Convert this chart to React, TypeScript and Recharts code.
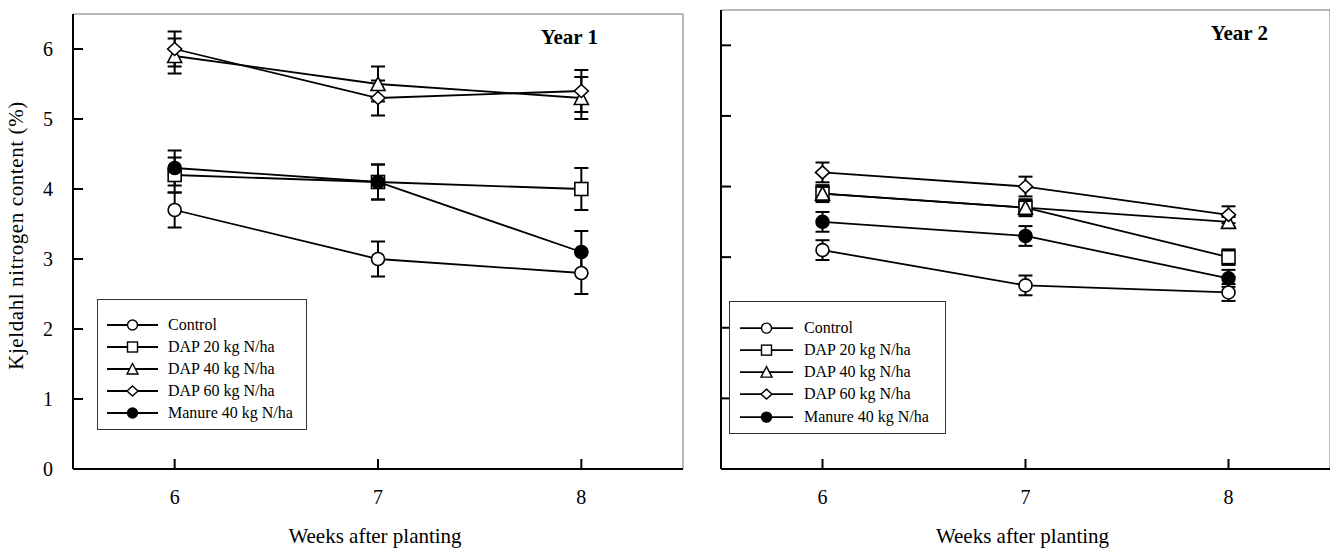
import React from 'react';
import { LineChart, Line, XAxis, YAxis, ErrorBar, ReferenceArea, Legend } from 'recharts';

// ---------- data ----------
const WEEKS = [6, 7, 8];
const SERIES_NAMES = ['Control', 'DAP 20 kg N/ha', 'DAP 40 kg N/ha', 'DAP 60 kg N/ha', 'Manure 40 kg N/ha'];
const SERIES_KEYS = ['control', 'dap20', 'dap40', 'dap60', 'manure'];
const SERIES_SHAPES = ['circle', 'square', 'triangle', 'diamond', 'filled'];

// Year 1 (mean, ± error)
const Y1_CONTROL = [3.7, 3.0, 2.8];
const Y1_CONTROL_ERR = [0.25, 0.25, 0.3];
const Y1_DAP20 = [4.2, 4.1, 4.0];
const Y1_DAP20_ERR = [0.25, 0.25, 0.3];
const Y1_DAP40 = [5.9, 5.5, 5.3];
const Y1_DAP40_ERR = [0.25, 0.25, 0.3];
const Y1_DAP60 = [6.0, 5.3, 5.4];
const Y1_DAP60_ERR = [0.25, 0.25, 0.3];
const Y1_MANURE = [4.3, 4.1, 3.1];
const Y1_MANURE_ERR = [0.25, 0.25, 0.3];

// Year 2 (mean, ± error)
const Y2_CONTROL = [3.1, 2.6, 2.5];
const Y2_CONTROL_ERR = [0.14, 0.14, 0.12];
const Y2_DAP20 = [3.9, 3.7, 3.0];
const Y2_DAP20_ERR = [0.12, 0.12, 0.11];
const Y2_DAP40 = [3.9, 3.7, 3.5];
const Y2_DAP40_ERR = [0.1, 0.1, 0.07];
const Y2_DAP60 = [4.2, 4.0, 3.6];
const Y2_DAP60_ERR = [0.14, 0.14, 0.12];
const Y2_MANURE = [3.5, 3.3, 2.7];
const Y2_MANURE_ERR = [0.14, 0.14, 0.12];

const Y_TICKS = [0, 1, 2, 3, 4, 5, 6];
const X_TICKS = [6, 7, 8];
const X_DOMAIN = [5.5, 8.5];
const Y_DOMAIN = [0, 6.5];

const X_TITLE = 'Weeks after planting';
const Y_TITLE = 'Kjeldahl nitrogen content (%)';
const PANEL_TITLES = ['Year 1', 'Year 2'];

// ---------- helpers ----------
const FONT = "'Liberation Serif', 'Times New Roman', Times, serif";

function buildRows(values: number[][], errs: number[][]) {
  return WEEKS.map((w, i) => {
    const row: any = { week: w };
    SERIES_KEYS.forEach((k, s) => {
      row[k] = values[s][i];
      row[k + 'Err'] = errs[s][i];
    });
    return row;
  });
}

const DATA_Y1 = buildRows(
  [Y1_CONTROL, Y1_DAP20, Y1_DAP40, Y1_DAP60, Y1_MANURE],
  [Y1_CONTROL_ERR, Y1_DAP20_ERR, Y1_DAP40_ERR, Y1_DAP60_ERR, Y1_MANURE_ERR]
);
const DATA_Y2 = buildRows(
  [Y2_CONTROL, Y2_DAP20, Y2_DAP40, Y2_DAP60, Y2_MANURE],
  [Y2_CONTROL_ERR, Y2_DAP20_ERR, Y2_DAP40_ERR, Y2_DAP60_ERR, Y2_MANURE_ERR]
);

function Marker({ shape, cx, cy, s, sw = 1.6 }: { shape: string; cx: number; cy: number; s: number; sw?: number }) {
  const common = { stroke: '#000', strokeWidth: sw, fill: '#fff' };
  switch (shape) {
    case 'circle':
      return <circle cx={cx} cy={cy} r={s} {...common} />;
    case 'square':
      return <rect x={cx - s} y={cy - s} width={2 * s} height={2 * s} {...common} />;
    case 'triangle':
      return (
        <polygon
          points={`${cx},${cy - s - 0.5} ${cx - s - 0.5},${cy + s} ${cx + s + 0.5},${cy + s}`}
          {...common}
        />
      );
    case 'diamond':
      return (
        <polygon
          points={`${cx},${cy - s} ${cx + s + 0.5},${cy} ${cx},${cy + s} ${cx - s - 0.5},${cy}`}
          {...common}
        />
      );
    default:
      return <circle cx={cx} cy={cy} r={s} stroke="#000" strokeWidth={sw} fill="#000" />;
  }
}

const TICK_LEN = 10;
const Y_TICK_GAP = 20;
const X_TICK_GAP = 21;

const makeYTick = (showLabel: boolean) => (props: any) => {
  const { x, y, payload } = props;
  const axisX = x + Y_TICK_GAP;
  return (
    <g>
      <line x1={axisX} x2={axisX + TICK_LEN} y1={y} y2={y} stroke="#000" strokeWidth={2} />
      {showLabel && (
        <text x={x} y={y + 7} textAnchor="end" fontFamily={FONT} fontSize={20} fill="#000">
          {payload.value}
        </text>
      )}
    </g>
  );
};

const XTick = (props: any) => {
  const { x, y, payload } = props;
  const axisY = y - X_TICK_GAP;
  return (
    <g>
      <line x1={x} x2={x} y1={axisY} y2={axisY - TICK_LEN} stroke="#000" strokeWidth={2} />
      <text x={x} y={y + 13.5} textAnchor="middle" fontFamily={FONT} fontSize={20} fill="#000">
        {payload.value}
      </text>
    </g>
  );
};

const makeXLabel = (panelTitle: string, yearRightInset: number) => (props: any) => {
  const vb = props.viewBox || {};
  const cx = vb.x + vb.width / 2 - 3;
  return (
    <g>
      <text x={cx} y={vb.y + 74} textAnchor="middle" fontFamily={FONT} fontSize={21} fill="#000">
        {X_TITLE}
      </text>
    </g>
  );
};

const YLabel = (props: any) => {
  const vb = props.viewBox || {};
  const cy = vb.y + vb.height / 2 - 6;
  const bx = 23;
  return (
    <text
      x={bx}
      y={cy}
      transform={`rotate(-90, ${bx}, ${cy})`}
      textAnchor="middle"
      fontFamily={FONT}
      fontSize={21}
      letterSpacing={0.6}
      fill="#000"
    >
      {Y_TITLE}
    </text>
  );
};

function LegendBox({ width, height, padTop, rowH, lineX1, lineX2, textX }: any) {
  return (
    <div
      style={{
        width,
        height,
        border: '1px solid #333',
        boxSizing: 'border-box',
        background: '#fff',
        paddingTop: padTop,
        fontFamily: FONT,
        fontSize: 16,
        color: '#000',
      }}
    >
      {SERIES_NAMES.map((name, i) => (
        <div key={name} style={{ display: 'flex', alignItems: 'center', height: rowH }}>
          <svg width={textX} height={rowH} style={{ display: 'block', flex: 'none' }}>
            <line x1={lineX1} x2={lineX2} y1={rowH / 2} y2={rowH / 2} stroke="#000" strokeWidth={1.8} />
            <Marker shape={SERIES_SHAPES[i]} cx={(lineX1 + lineX2) / 2} cy={rowH / 2} s={5} sw={1.4} />
          </svg>
          <span style={{ whiteSpace: 'nowrap', lineHeight: `${rowH}px` }}>{name}</span>
        </div>
      ))}
    </div>
  );
}

function Panel({
  data,
  width,
  height,
  margin,
  yAxisWidth,
  showYLabels,
  title,
  titleRight,
  titleBaseline,
  legend,
}: any) {
  return (
    <LineChart width={width} height={height} data={data} margin={margin}>
      <ReferenceArea
        x1={X_DOMAIN[0]}
        x2={X_DOMAIN[1]}
        y1={Y_DOMAIN[0]}
        y2={Y_DOMAIN[1]}
        fill="none"
        stroke="#777"
        strokeWidth={1}
        ifOverflow="visible"
      />
      <XAxis
        dataKey="week"
        type="number"
        domain={X_DOMAIN}
        ticks={X_TICKS}
        allowDataOverflow
        height={80}
        axisLine={{ stroke: '#000', strokeWidth: 2 }}
        tickLine={false}
        tickSize={0}
        tickMargin={X_TICK_GAP}
        tick={XTick}
        label={makeXLabel(title, titleRight)}
      />
      <YAxis
        type="number"
        domain={Y_DOMAIN}
        ticks={Y_TICKS}
        allowDataOverflow
        width={yAxisWidth}
        axisLine={{ stroke: '#000', strokeWidth: 2 }}
        tickLine={false}
        tickSize={0}
        tickMargin={Y_TICK_GAP}
        tick={makeYTick(showYLabels)}
        label={showYLabels ? YLabel : undefined}
      />
      {SERIES_KEYS.map((k, i) => (
        <Line
          key={k}
          dataKey={k}
          name={SERIES_NAMES[i]}
          type="linear"
          stroke="#000"
          strokeWidth={1.8}
          isAnimationActive={false}
          activeDot={false}
          dot={(p: any) => (
            <Marker key={`${k}-${p.index}`} shape={SERIES_SHAPES[i]} cx={p.cx} cy={p.cy} s={6.5} />
          )}
        >
          <ErrorBar dataKey={k + 'Err'} direction="y" width={7} stroke="#000" strokeWidth={2} isAnimationActive={false} />
        </Line>
      ))}
      <Legend
        layout="horizontal"
        verticalAlign="middle"
        align="center"
        wrapperStyle={{ left: legend.left, top: legend.top, width: legend.width, height: legend.height }}
        content={() => <LegendBox {...legend} />}
      />
    </LineChart>
  );
}

export default function App() {
  return (
    <div style={{ position: 'absolute', left: 0, top: 0, width: 1330, height: 549, background: '#fff', overflow: 'hidden' }}>
      <div style={{ position: 'absolute', left: 0, top: 0 }}>
        <Panel
          data={DATA_Y1}
          width={700}
          height={549}
          margin={{ top: 14, right: 17, bottom: 0, left: 33 }}
          yAxisWidth={40}
          showYLabels
          title={PANEL_TITLES[0]}
          legend={{ left: 97, top: 299, width: 210, height: 131, padTop: 14, rowH: 22, lineX1: 9, lineX2: 60, textX: 70 }}
        />
        <div
          style={{
            position: 'absolute',
            left: 0,
            top: 0,
            pointerEvents: 'none',
          }}
        />
      </div>
      <div style={{ position: 'absolute', left: 680, top: 0 }}>
        <Panel
          data={DATA_Y2}
          width={650}
          height={549}
          margin={{ top: 10, right: 0, bottom: 0, left: 11 }}
          yAxisWidth={30}
          showYLabels={false}
          title={PANEL_TITLES[1]}
          legend={{ left: 49, top: 301, width: 217, height: 133, padTop: 14.5, rowH: 22.25, lineX1: 10, lineX2: 63, textX: 74 }}
        />
      </div>
      <div style={{ position: 'absolute', left: 538, top: 27, fontFamily: FONT, fontSize: 21, fontWeight: 'bold', width: 60, textAlign: 'right', lineHeight: '21px', whiteSpace: 'nowrap' }}>
        {PANEL_TITLES[0]}
      </div>
      <div style={{ position: 'absolute', left: 1207, top: 23, fontFamily: FONT, fontSize: 21, fontWeight: 'bold', width: 61, textAlign: 'right', lineHeight: '21px', whiteSpace: 'nowrap' }}>
        {PANEL_TITLES[1]}
      </div>
    </div>
  );
}
